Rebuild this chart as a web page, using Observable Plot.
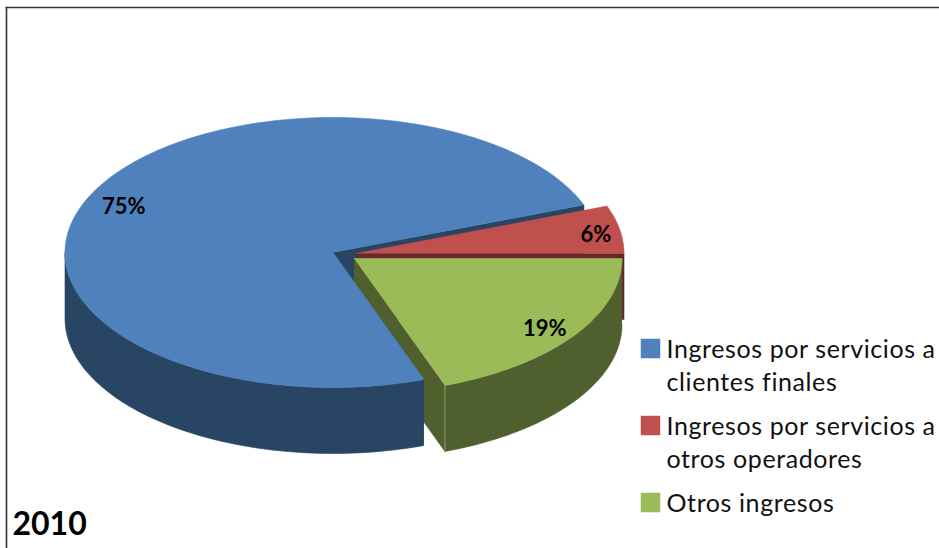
<!DOCTYPE html>
<html><head><meta charset="utf-8">
<script src="https://cdn.jsdelivr.net/npm/d3@7"></script>
<script src="https://cdn.jsdelivr.net/npm/@observablehq/plot@0.6"></script>
<style>html,body{margin:0;padding:0;background:#fff}svg{display:block}.lg text{letter-spacing:.6px}</style>
</head><body><div id="chart"></div>
<script>
const categories = ["Ingresos por servicios a clientes finales","Ingresos por servicios a otros operadores","Otros ingresos"];
const shares = [74.8, 5.71, 19.49];
const legendLines = [["Ingresos por servicios a","clientes finales"],["Ingresos por servicios a","otros operadores"],["Otros ingresos"]];
const yearLabel = "2010";
const topColors = ["#4F81BD","#C0504D","#9BBB59"];
const wallColors = ["#284563","#632A29","#4F5F2D"];

// Pie geometry, in units of the pie's radius
const rad = Math.PI/180;
const startDeg = 70.164;
const explode = [[0,0],[23/268,1/135],[21/268,6/135]];
const labelRadius = [0.86,0.91,0.87];
const depth = 66/135;
const slices = d3.pie().sort(null).startAngle(startDeg*rad).endAngle((startDeg+360)*rad)(shares);
const rim = (i,a) => [Math.cos(a)+explode[i][0], Math.sin(a)+explode[i][1]];
const arc = (i,a0,a1) => { const n = Math.ceil((a1-a0)/(1.5*rad)); return d3.range(n+1).map(k => rim(i,a0+(a1-a0)*k/n)); };
const center = i => explode[i];
const down = ps => ps.map(([x,y]) => [x,y+depth]);
const topFace = i => [center(i), ...arc(i,slices[i].startAngle,slices[i].endAngle)];
const band = ps => [...ps, ...down(ps).reverse()];

const face = (pts,color) => Plot.line(pts,{x:d=>d[0],y:d=>d[1],fill:color,stroke:color,strokeWidth:0.6,curve:"linear"});
const s = slices;
const blueEnd = rim(0,s[0].endAngle), blueC = center(0);
const greenCut = rim(2,s[2].endAngle);

const marks = [
  // blue inner cut face (upper right)
  face(band([blueC, blueEnd]), wallColors[0]),
  // red body
  face(band([center(1), rim(1,s[1].endAngle)]), wallColors[1]),
  face(topFace(1), topColors[1]),
  // green body
  face(band([center(2), greenCut]), wallColors[2]),
  face(band(arc(2,s[2].startAngle,s[2].endAngle)), wallColors[2]),
  Plot.line([greenCut,[greenCut[0],greenCut[1]+depth]],{x:d=>d[0],y:d=>d[1],stroke:"#8C9A70",strokeWidth:1}),
  face(topFace(2), topColors[2]),
  // blue body
  face(band(arc(0,s[0].startAngle,180*rad)), wallColors[0]),
  face(topFace(0), topColors[0]),
  // percent labels
  Plot.text(slices.map((d,i)=>{const m=(d.startAngle+d.endAngle)/2,r=labelRadius[i];return {x:r*Math.cos(m)+explode[i][0],y:r*Math.sin(m)+explode[i][1],t:Math.round(shares[i])+"%"};}),
    {x:"x",y:"y",text:"t",dy:3,fontSize:22,fontWeight:700,fontFamily:"Lato",fill:"#000"}),
  // frame
  Plot.frame({anchor:"top",stroke:"#333",strokeWidth:1.6}),
  Plot.frame({anchor:"left",stroke:"#333",strokeWidth:1.6}),
  // year
  Plot.text([yearLabel],{frameAnchor:"top-left",dx:6,dy:517,text:d=>d,fontSize:32,fontWeight:700,fontFamily:"Lato",fill:"#000",textAnchor:"start",lineAnchor:"middle"})
];
// legend
const rowY = [348, 425, 502];
const lineGap = 33;
legendLines.forEach((lines,i)=>{
  marks.push(Plot.dot([categories[i]],{frameAnchor:"top-left",dx:644,dy:rowY[i]-7,r:11,symbol:"square",fill:topColors[i],stroke:"none"}));
  lines.forEach((ln,j)=>marks.push(Plot.text([ln],{className:"lg",frameAnchor:"top-left",dx:660,dy:rowY[i]-5.5+j*lineGap,text:d=>d,fontSize:25,fontFamily:"Lato",fill:"#111",textAnchor:"start",lineAnchor:"middle"})));
});

const chart = Plot.plot({
  width:939,height:548,
  marginLeft:6,marginTop:7,marginRight:0,marginBottom:0,
  x:{domain:[-1,1],range:[64.5,600.5],axis:null},
  y:{domain:[-1,1],range:[117,387],axis:null},
  style:{background:"#fff"},
  marks
});
document.getElementById("chart").append(chart);
</script></body></html>
